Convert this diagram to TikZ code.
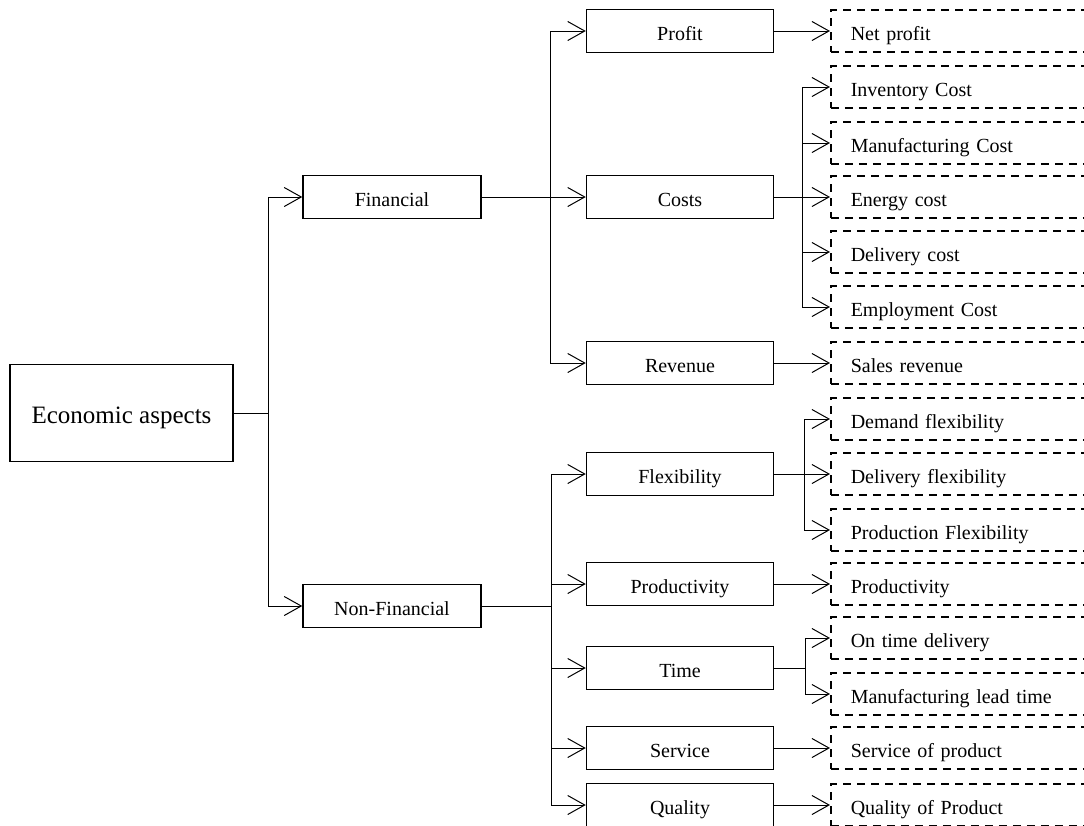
\documentclass[tikz,border=0pt]{standalone}
\usepackage{fontspec}
\setmainfont{Liberation Serif}
\usetikzlibrary{arrows}
\usetikzlibrary{arrows.meta}

\tikzset{
  mainbox/.style={draw, line width=1.5pt, minimum width=223pt, minimum height=97pt, text height=20pt, text depth=0pt, font=\fontsize{25pt}{30pt}\selectfont},
  catbox/.style={draw, line width=1.5pt, minimum width=178pt, minimum height=43pt, text height=19pt, text depth=0pt, font=\fontsize{20pt}{24pt}\selectfont},
  subbox/.style={draw, line width=1.5pt, minimum width=187pt, minimum height=43pt, text height=18pt, text depth=0pt, font=\fontsize{20pt}{24pt}\selectfont},
  itembox/.style={draw, dash pattern=on 8pt off 6pt, line width=1.5pt, anchor=west, text width=250pt, align=left, inner xsep=20pt, minimum height=42pt, text height=18pt, text depth=0pt, font=\fontsize{20pt}{24pt}\selectfont},
  link/.style={line width=1pt},
  arr/.style={line width=1pt, -{Straight Barb[length=17pt,width=19pt]}}
}

\begin{document}
\begin{tikzpicture}[x=1pt,y=-1pt]
\clip (0,0) rectangle (1084,825);
\node[mainbox] (econ) at (121.5,413) {Economic aspects};
\node[catbox] (fin) at (392,197) {Financial};
\node[catbox] (nonfin) at (392,606) {Non-Financial};

\node[subbox] (profit) at (680,31) {Profit};
\node[subbox] (costs) at (680,197) {Costs};
\node[subbox] (revenue) at (680,363) {Revenue};
\node[subbox] (flex) at (680,474) {Flexibility};
\node[subbox] (prod) at (680,584) {Productivity};
\node[subbox] (time) at (680,668) {Time};
\node[subbox] (service) at (680,748) {Service};
\node[subbox] (quality) at (680,805) {Quality};

\node[itembox] (netprofit) at (830,31) {Net profit};
\node[itembox] (invcost) at (830,87) {Inventory Cost};
\node[itembox] (mfgcost) at (830,143) {Manufacturing Cost};
\node[itembox] (energycost) at (830,197) {Energy cost};
\node[itembox] (delcost) at (830,252) {Delivery cost};
\node[itembox] (empcost) at (830,307) {Employment Cost};
\node[itembox] (sales) at (830,363) {Sales revenue};
\node[itembox] (demflex) at (830,419) {Demand flexibility};
\node[itembox] (delflex) at (830,474) {Delivery flexibility};
\node[itembox] (prodflex) at (830,530) {Production Flexibility};
\node[itembox] (prodty) at (830,584) {Productivity};
\node[itembox] (ontime) at (830,638) {On time delivery};
\node[itembox] (leadtime) at (830,694) {Manufacturing lead time};
\node[itembox] (servprod) at (830,748) {Service of product};
\node[itembox] (qualprod) at (830,805) {Quality of Product};

% branch points
\coordinate (b1) at (268,413);
\coordinate (b2) at (550,197);
\coordinate (b3) at (802,197);
\coordinate (b4) at (551,606);
\coordinate (b5) at (804,474);
\coordinate (b6) at (805,668);

\draw[link] (econ) -- (b1);
\draw[arr] (b1) |- (fin);
\draw[arr] (b1) |- (nonfin);

\draw[link] (fin) -- (b2);
\draw[arr] (b2) |- (profit);
\draw[arr] (b2) -- (costs);
\draw[arr] (b2) |- (revenue);

\draw[link] (nonfin) -- (b4);
\draw[arr] (b4) |- (flex);
\draw[arr] (b4) |- (prod);
\draw[arr] (b4) |- (time);
\draw[arr] (b4) |- (service);
\draw[arr] (b4) |- (quality);

\draw[arr] (profit) -- (netprofit);
\draw[link] (costs) -- (b3);
\draw[arr] (b3) |- (invcost);
\draw[arr] (b3) |- (mfgcost);
\draw[arr] (b3) -- (energycost);
\draw[arr] (b3) |- (delcost);
\draw[arr] (b3) |- (empcost);
\draw[arr] (revenue) -- (sales);

\draw[link] (flex) -- (b5);
\draw[arr] (b5) |- (demflex);
\draw[arr] (b5) -- (delflex);
\draw[arr] (b5) |- (prodflex);
\draw[arr] (prod) -- (prodty);
\draw[link] (time) -- (b6);
\draw[arr] (b6) |- (ontime);
\draw[arr] (b6) |- (leadtime);
\draw[arr] (service) -- (servprod);
\draw[arr] (quality) -- (qualprod);
\end{tikzpicture}
\end{document}
